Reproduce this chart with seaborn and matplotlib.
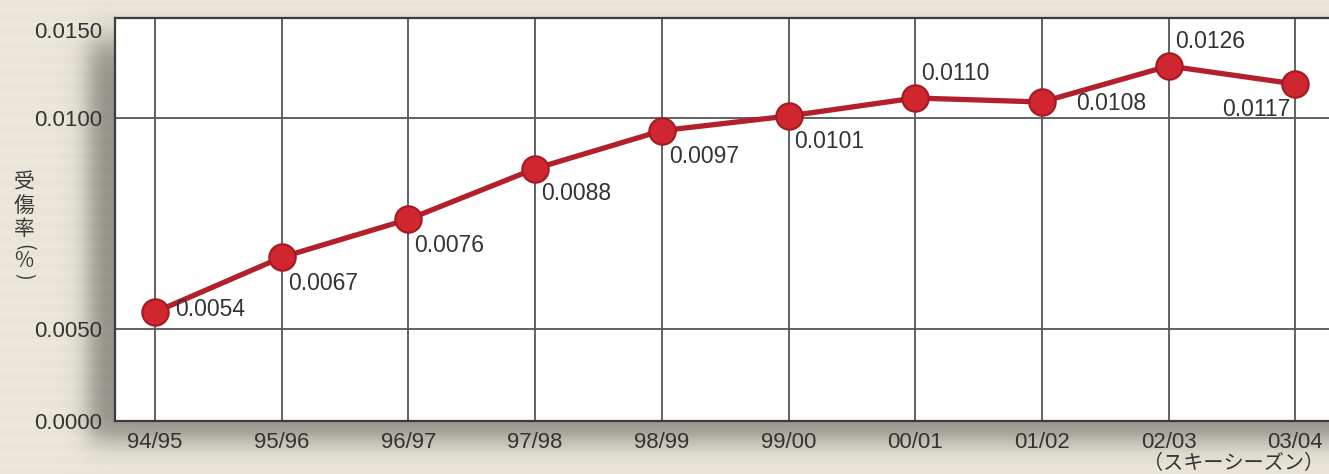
import numpy as np
import pandas as pd
import matplotlib
matplotlib.use("Agg")
import matplotlib.pyplot as plt
import matplotlib.transforms as mtransforms
import seaborn as sns

# Injury rate per ski season
seasons = ["94/95", "95/96", "96/97", "97/98", "98/99",
           "99/00", "00/01", "01/02", "02/03", "03/04"]
injury_rate = [0.0054, 0.0067, 0.0076, 0.0088, 0.0097,
               0.0101, 0.0110, 0.0108, 0.0126, 0.0117]
y_ticks = [0.0, 0.005, 0.010, 0.015]
y_tick_labels = ["0.0000", "0.0050", "0.0100", "0.0150"]
y_label = "受傷率(%)"
x_label = "（スキーシーズン）"

df = pd.DataFrame({"idx": np.arange(len(seasons)), "rate": injury_rate})

sns.set_theme(style="white")
plt.rcParams["font.family"] = ["Liberation Sans", "Noto Sans CJK JP", "DejaVu Sans"]

W, H = 1329, 474
fig = plt.figure(figsize=(W / 100, H / 100), dpi=100)

# paper-like backdrop with a soft drop shadow behind the plot panel
bg_ax = fig.add_axes([0, 0, 1, 1], zorder=-5)
xx, yy = np.meshgrid(np.arange(W), np.arange(H))
def soft(a, s):
    return 1.0 / (1.0 + np.exp(-a / s))
mask = soft(xx - 88, 7) * soft(yy - 40, 10) * soft(440 - yy, 8)
base = np.array([0.925, 0.912, 0.860])
stripes = 1.0 - 0.012 * (np.sin(yy / 2.2) > 0)
img = base[None, None, :] * stripes[..., None] * (1 - 0.38 * mask[..., None])
bg_ax.imshow(img, aspect="auto", extent=(0, 1, 0, 1))
bg_ax.set_axis_off()

# piecewise y scale so the gridlines sit at their printed spacing
bp_v = np.array([0.0, 0.005, 0.010, 0.015])
bp_px = np.array([0.0, 92.0, 303.0, 403.0])
def fwd(v):
    return np.interp(v, bp_v, bp_px)
def inv(p):
    return np.interp(p, bp_px, bp_v)

left, top, bottom = 115, 18, 421
ax = fig.add_axes([left / W, 1 - bottom / H, 1 - left / W, (bottom - top) / H])
ax.set_facecolor("white")
ax.set_yscale("function", functions=(fwd, inv))

sns.lineplot(data=df, x="idx", y="rate", ax=ax, color="#b3202b",
             linewidth=3.8, marker="o", markersize=19,
             markerfacecolor="#d0262f", markeredgecolor="#a31a23",
             markeredgewidth=1.5, zorder=5)

ax.set_xlim(-0.316, 9.266)
ax.set_ylim(0, 0.015)
ax.set_xticks(df["idx"])
ax.set_xticklabels(seasons)
ax.set_yticks(y_ticks)
ax.set_yticklabels(y_tick_labels)
ax.tick_params(axis="both", length=0, labelsize=16, labelcolor="#333333")
ax.tick_params(axis="y", pad=9)
ax.tick_params(axis="x", pad=8)
ax.set_xlabel("")
ax.set_ylabel("")
ax.grid(True, color="#555555", linewidth=1.3, zorder=0)
ax.set_axisbelow(True)
for side in ["left", "bottom", "top"]:
    ax.spines[side].set_color("#3c3c3c")
    ax.spines[side].set_linewidth(1.6)
ax.spines["right"].set_visible(False)

# the top tick label sits a little below the frame edge
top_label = ax.get_yticklabels()[-1]
top_label.set_transform(top_label.get_transform() +
                        mtransforms.ScaledTranslation(0, -12 / 100, fig.dpi_scale_trans))

# value labels, offset around each marker
label_offsets = [(20, 3, "left"), (6, -26, "left"), (6, -26, "left"),
                 (6, -25, "left"), (7, -26, "left"), (6, -25, "left"),
                 (6, 24, "left"), (34, -2, "left"), (7, 24, "left"),
                 (-5, -25, "right")]
for i, v in enumerate(injury_rate):
    dx, dy, ha = label_offsets[i]
    ax.annotate(f"{v:.4f}", (i, v), xytext=(dx, dy), textcoords="offset pixels",
                ha=ha, va="center", fontsize=16.5, color="#333333", zorder=6)

# vertical axis title, one upright character per line, brackets turned sideways
cjk = ["Noto Sans CJK JP", "DejaVu Sans"]
char_y = [182, 206, 229, 247, 261, 276]
for ch, py in zip(y_label, char_y):
    rot = -90 if ch in "()" else 0
    fig.text(24 / W, 1 - py / H, ch, ha="center", va="center", rotation=rot,
             fontsize=15 if ch not in "()" else 14, color="#3a3a3a", family=cjk)

fig.text(1324 / W, 1 - 464 / H, x_label, ha="right", va="center",
         fontsize=14.5, color="#333333", family=cjk)

fig.savefig("out.png", dpi=100)
